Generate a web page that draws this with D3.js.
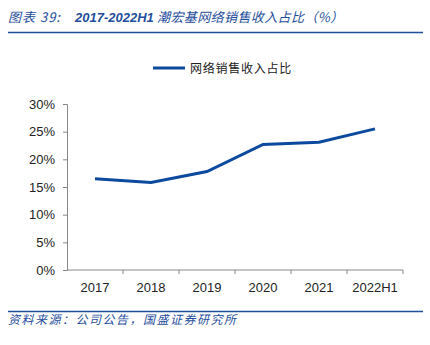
<!DOCTYPE html>
<html>
<head>
<meta charset="utf-8">
<script src="https://cdn.jsdelivr.net/npm/d3@7"></script>
<style>
  body { margin: 0; background: #fff; }
  text { font-family: "Liberation Sans", Arial, "Noto Sans CJK SC", sans-serif; }
</style>
</head>
<body>
<div id="wrapper"></div>
<script>
const categories = ["2017", "2018", "2019", "2020", "2021", "2022H1"];
const shareValues = [16.5, 15.8, 17.8, 22.7, 23.1, 25.5];
const yTicks = [0, 5, 10, 15, 20, 25, 30];
const seriesName = "网络销售收入占比";

const width = 430, height = 345;
const blue = "#0b4a9e";
const cjk = '"Noto Sans CJK SC", sans-serif';

const svg = d3.select("#wrapper").append("svg")
  .attr("width", width)
  .attr("height", height);

// header
const title = svg.append("text")
  .attr("y", 22)
  .attr("fill", "#1f4e9c")
  .style("font-size", "13px")
  .style("font-style", "italic");
title.append("tspan")
  .attr("x", 8)
  .style("font-family", cjk)
  .style("letter-spacing", "1px")
  .text("图表 39:");
title.append("tspan")
  .attr("x", 75)
  .style("font-family", '"Liberation Sans", Arial, sans-serif')
  .style("font-weight", "bold")
  .text("2017-2022H1");
title.append("tspan")
  .attr("x", 157)
  .style("font-family", cjk)
  .style("letter-spacing", "0.4px")
  .text("潮宏基网络销售收入占比（%）");

svg.append("line")
  .attr("x1", 8).attr("x2", 423)
  .attr("y1", 32.5).attr("y2", 32.5)
  .attr("stroke", "#1f4e9c").attr("stroke-width", 1.5);

svg.append("line")
  .attr("x1", 8).attr("x2", 423)
  .attr("y1", 311.5).attr("y2", 311.5)
  .attr("stroke", "#1f4e9c").attr("stroke-width", 1.5);

svg.append("text")
  .attr("x", 8).attr("y", 324)
  .attr("fill", "#1f4e9c")
  .style("font-size", "12px")
  .style("letter-spacing", "1.5px")
  .style("font-style", "italic")
  .style("font-family", cjk)
  .text("资料来源：公司公告，国盛证券研究所");

// scales
const x = d3.scaleBand().domain(categories).range([67, 403]);
const y = d3.scaleLinear().domain([0, 30]).range([270, 104]);

// y axis
const yAxis = svg.append("g")
  .attr("transform", "translate(67,0)")
  .call(d3.axisLeft(y).tickValues(yTicks).tickSize(4).tickPadding(8).tickFormat(d => d + "%"));
yAxis.selectAll("path, line").attr("stroke", "#888");
yAxis.selectAll("text").attr("fill", "#222").style("font-size", "13px");

// x axis with ticks at band boundaries
const xAxis = svg.append("g")
  .attr("transform", "translate(0,270)");
xAxis.append("line")
  .attr("x1", 67).attr("x2", 403)
  .attr("stroke", "#888");
xAxis.selectAll("line.tick")
  .data(categories)
  .join("line")
  .attr("class", "tick")
  .attr("x1", d => x(d) + x.bandwidth()).attr("x2", d => x(d) + x.bandwidth())
  .attr("y1", 0).attr("y2", 4)
  .attr("stroke", "#888");
xAxis.selectAll("text")
  .data(categories)
  .join("text")
  .attr("x", d => x(d) + x.bandwidth() / 2)
  .attr("y", 22)
  .attr("text-anchor", "middle")
  .attr("fill", "#222")
  .style("font-size", "13px")
  .text(d => d);

// line
const line = d3.line()
  .x((d, i) => x(categories[i]) + x.bandwidth() / 2)
  .y(d => y(d));

svg.append("path")
  .datum(shareValues)
  .attr("fill", "none")
  .attr("stroke", blue)
  .attr("stroke-width", 3)
  .attr("d", line);

// legend
svg.append("line")
  .attr("x1", 153).attr("x2", 185)
  .attr("y1", 68).attr("y2", 68)
  .attr("stroke", blue).attr("stroke-width", 3);
svg.append("text")
  .attr("x", 190).attr("y", 72.5)
  .attr("fill", "#222")
  .style("font-size", "12px")
  .style("letter-spacing", "0.75px")
  .style("font-family", cjk)
  .text(seriesName);
</script>
</body>
</html>
